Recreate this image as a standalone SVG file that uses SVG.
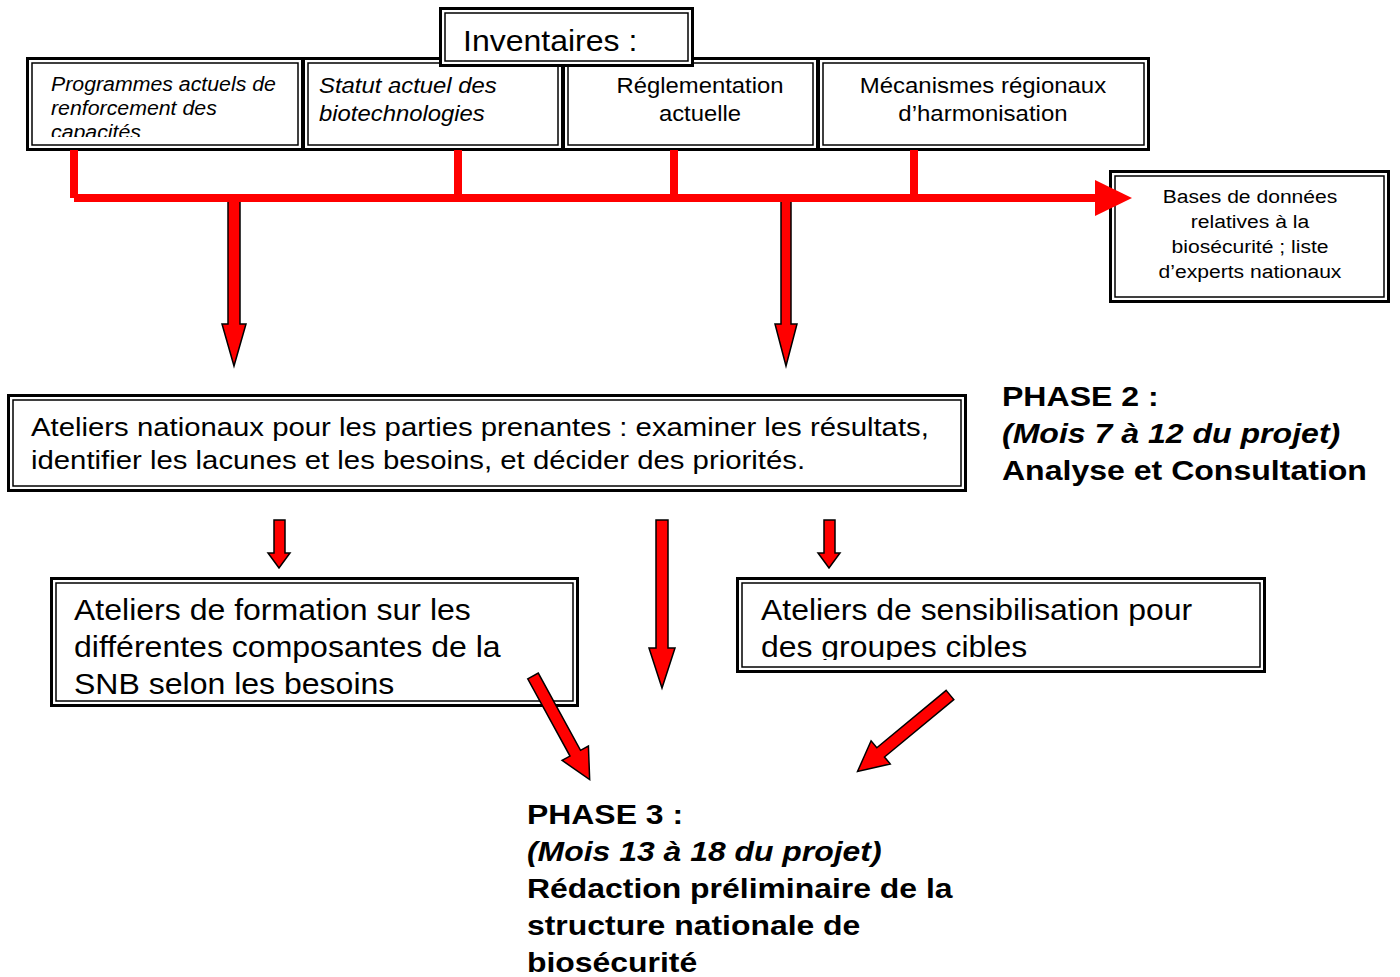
<svg xmlns="http://www.w3.org/2000/svg" width="1400" height="977" viewBox="0 0 1400 977">
<style>
.o{fill:#fff;stroke:#000;stroke-width:3}
.i{fill:none;stroke:#000;stroke-width:1.5}
.t{font-family:"Liberation Sans",Arial,sans-serif;fill:#000}
.it{font-style:italic}
.b{font-weight:bold}
.red{stroke:#ff0000;stroke-width:8;fill:none}
.arr{fill:#ff0000;stroke:#000;stroke-width:1.5;stroke-linejoin:miter}
</style>
<defs>
<clipPath id="c1"><rect x="31" y="62" width="267" height="75"/></clipPath>
<clipPath id="c2"><rect x="55" y="582" width="519" height="115"/></clipPath>
<clipPath id="c3"><rect x="741" y="582" width="520" height="78"/></clipPath>
</defs>
<g id="n-programmes">
<rect class="o" x="27.5" y="58.5" width="275" height="91"/>
<rect class="i" x="32" y="63" width="266" height="82"/>
<g clip-path="url(#c1)"><text class="t it" font-size="20" transform="matrix(1.066,0,0,1,-3.37,0)"><tspan x="51" y="91">Programmes actuels de</tspan><tspan x="51" y="115">renforcement des</tspan><tspan x="51" y="139">capacités</tspan></text></g>
</g>
<g id="n-statut">
<rect class="o" x="303.5" y="58.5" width="259" height="91"/>
<rect class="i" x="308" y="63" width="250" height="82"/>
<text class="t it" font-size="22" transform="matrix(1.085,0,0,1,-27.1,0)"><tspan x="319" y="93">Statut actuel des</tspan><tspan x="319" y="121">biotechnologies</tspan></text>
</g>
<g id="n-reglementation">
<rect class="o" x="563.5" y="58.5" width="254" height="91"/>
<rect class="i" x="568" y="63" width="245" height="82"/>
<text class="t" font-size="22" text-anchor="middle" transform="matrix(1.084,0,0,1,-58.8,0)"><tspan x="700" y="93">Réglementation</tspan><tspan x="700" y="121">actuelle</tspan></text>
</g>
<g id="n-mecanismes">
<rect class="o" x="818.5" y="58.5" width="330" height="91"/>
<rect class="i" x="823" y="63" width="321" height="82"/>
<text class="t" font-size="22" text-anchor="middle" transform="matrix(1.09,0,0,1,-88.5,0)"><tspan x="983" y="93">Mécanismes régionaux</tspan><tspan x="983" y="121">d’harmonisation</tspan></text>
</g>
<g id="n-inventaires">
<rect class="o" x="440.5" y="8.5" width="252" height="57"/>
<rect class="i" x="445" y="13" width="243" height="48"/>
<text class="t" font-size="30" x="463" y="51" transform="matrix(1.067,0,0,1,-31,0)">Inventaires :</text>
</g>
<g id="n-bases">
<rect class="o" x="1110.5" y="171.5" width="278" height="130"/>
<rect class="i" x="1115" y="176" width="269" height="121"/>
<text class="t" font-size="19" text-anchor="middle" transform="matrix(1.11,0,0,1,-137.5,0)"><tspan x="1250" y="203">Bases de données</tspan><tspan x="1250" y="228">relatives à la</tspan><tspan x="1250" y="253">biosécurité ; liste</tspan><tspan x="1250" y="278">d’experts nationaux</tspan></text>
</g>
<g id="n-ateliers-nationaux">
<rect class="o" x="8.5" y="395.5" width="957" height="95"/>
<rect class="i" x="13" y="400" width="948" height="86"/>
<text class="t" font-size="26" transform="matrix(1.128,0,0,1,-3.97,0)"><tspan x="31" y="436">Ateliers nationaux pour les parties prenantes : examiner les résultats,</tspan><tspan x="31" y="469">identifier les lacunes et les besoins, et décider des priorités.</tspan></text>
</g>
<g id="n-phase2">
<text class="t b" font-size="28" transform="matrix(1.145,0,0,1,-145.3,0)"><tspan x="1002" y="406">PHASE 2 :</tspan><tspan x="1002" y="443" class="it">(Mois 7 à 12 du projet)</tspan><tspan x="1002" y="480">Analyse et Consultation</tspan></text>
</g>
<g id="n-formation">
<rect class="o" x="51.5" y="578.5" width="526" height="127"/>
<rect class="i" x="56" y="583" width="517" height="118"/>
<g clip-path="url(#c2)"><text class="t" font-size="30" transform="matrix(1.068,0,0,1,-5.03,0)"><tspan x="74" y="620">Ateliers de formation sur les</tspan><tspan x="74" y="657">différentes composantes de la</tspan><tspan x="74" y="694">SNB selon les besoins</tspan></text></g>
</g>
<g id="n-sensibilisation">
<rect class="o" x="737.5" y="578.5" width="527" height="93"/>
<rect class="i" x="742" y="583" width="518" height="84"/>
<g clip-path="url(#c3)"><text class="t" font-size="30" transform="matrix(1.064,0,0,1,-48.7,0)"><tspan x="761" y="620">Ateliers de sensibilisation pour</tspan><tspan x="761" y="657">des groupes cibles</tspan></text></g>
</g>
<g id="n-phase3">
<text class="t b" font-size="28" transform="matrix(1.14,0,0,1,-73.8,0)"><tspan x="527" y="824">PHASE 3 :</tspan><tspan x="527" y="861" class="it">(Mois 13 à 18 du projet)</tspan><tspan x="527" y="898">Rédaction préliminaire de la</tspan><tspan x="527" y="935">structure nationale de</tspan><tspan x="527" y="972">biosécurité</tspan></text>
</g>
<g id="connectors">
<polygon class="arr" points="228,198 240,198 240,324 246,324 234,366 222,324 228,324"/>
<polygon class="arr" points="781,198 791,198 791,324 797,324 786,366 775,324 781,324"/>
<path class="red" d="M74,150 V198 M458,150 V198 M674,150 V198 M914,150 V198 M74,198 H1100"/>
<polygon fill="#ff0000" points="1095,180 1132,198 1095,216"/>
<polygon class="arr" points="274,520 285,520 285,553 290,553 279,568 268,553 274,553"/>
<polygon class="arr" points="824,520 835,520 835,553 840,553 829,568 818,553 824,553"/>
<polygon class="arr" points="656,520 668,520 668,648 675,648 662,688 649,648 656,648"/>
<g transform="translate(533,676) rotate(-28.7)">
<polygon class="arr" points="-6,0 6,0 6,88 15,88 0,118 -15,88 -6,88"/>
</g>
<g transform="translate(950,695) rotate(50.4)">
<polygon class="arr" points="-6,0 6,0 6,90 15,90 0,120 -15,90 -6,90"/>
</g>
</g>
</svg>
